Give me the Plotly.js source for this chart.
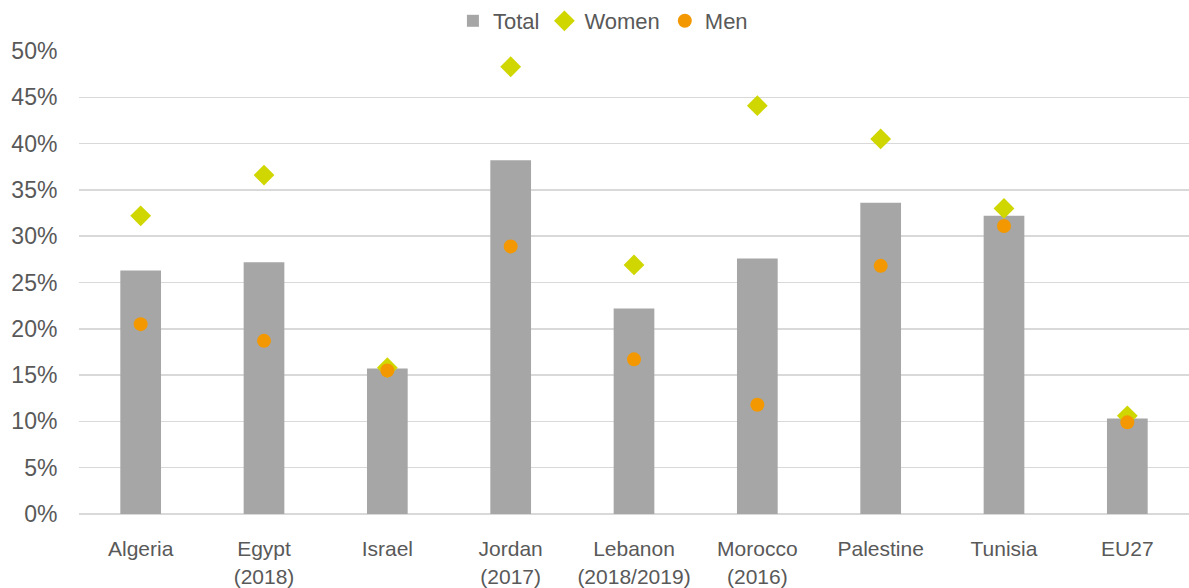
<!DOCTYPE html>
<html>
<head>
<meta charset="utf-8">
<script src="https://cdn.plot.ly/plotly-3.0.1.min.js"></script>
<style>
html,body{margin:0;padding:0;background:#fff;}
#chart{width:1189px;height:588px;}
</style>
</head>
<body>
<div id="chart"></div>
<script>
const categories = ["Algeria", "Egypt<br>(2018)", "Israel", "Jordan<br>(2017)", "Lebanon<br>(2018/2019)", "Morocco<br>(2016)", "Palestine", "Tunisia", "EU27"];
const total = [0.263, 0.272, 0.157, 0.382, 0.222, 0.276, 0.336, 0.322, 0.103];
const women = [0.322, 0.366, 0.158, 0.483, 0.269, 0.441, 0.405, 0.330, 0.106];
const men   = [0.205, 0.187, 0.155, 0.289, 0.167, 0.118, 0.268, 0.311, 0.099];

const traces = [
  {type:"bar", name:"Total", x:categories, y:total, marker:{color:"#a6a6a6"}, width:0.33},
  {type:"scatter", mode:"markers", name:"Women", x:categories, y:women,
   marker:{symbol:"diamond", size:16, color:"#cfd600"}},
  {type:"scatter", mode:"markers", name:"Men", x:categories, y:men,
   marker:{symbol:"circle", size:14, color:"#f39800"}}
];

const layout = {
  width:1189, height:588,
  margin:{l:79, r:0, t:51, b:74},
  paper_bgcolor:"#fff", plot_bgcolor:"#fff",
  font:{family:"Liberation Sans, Arial, sans-serif", size:21, color:"#595959"},
  showlegend:true,
  legend:{orientation:"h", x:0.472, xanchor:"center", y:1.0, yanchor:"top", yref:"container",
          font:{size:22, color:"#595959"}, itemwidth:30, traceorder:"normal", tracegroupgap:0,
          bgcolor:"rgba(0,0,0,0)"},
  xaxis:{type:"category", range:[-0.5, 8.5], autorange:false, showgrid:false, zeroline:false, showline:false, automargin:false,
         ticks:"outside", ticklen:16, tickcolor:"rgba(0,0,0,0)",
         tickfont:{size:21, color:"#595959"}, fixedrange:true},
  yaxis:{range:[0,0.5], dtick:0.05, tickformat:".0%", showgrid:true, gridcolor:"#d9d9d9", gridwidth:1.5,
         zeroline:true, zerolinecolor:"#d9d9d9", zerolinewidth:1.5, showline:false, automargin:false,
         ticks:"outside", ticklen:16, tickcolor:"rgba(0,0,0,0)",
         tickfont:{size:23, color:"#595959"}, fixedrange:true}
};

Plotly.newPlot("chart", traces, layout, {displayModeBar:false, staticPlot:true});
</script>
</body>
</html>
